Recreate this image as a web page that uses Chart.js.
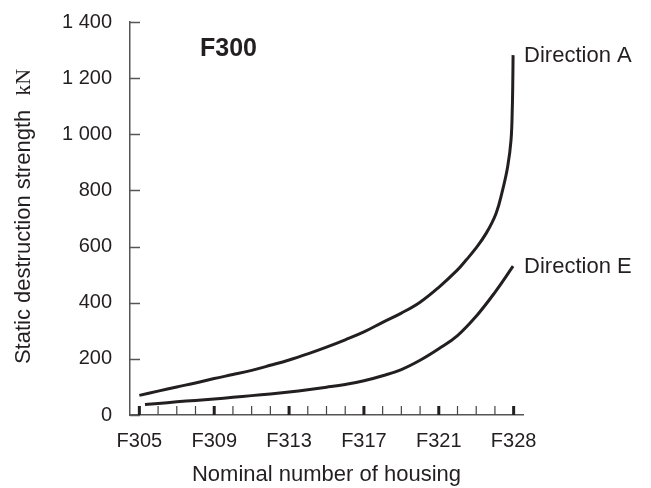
<!DOCTYPE html>
<html>
<head>
<meta charset="utf-8">
<script src="https://cdn.jsdelivr.net/npm/chart.js"></script>
<style>
  body { margin: 0; background: #fff; }
  #wrap { width: 651px; height: 488px; }
</style>
</head>
<body>
<div id="wrap"><canvas id="housingChart"></canvas></div>
<script>
// housing sizes along the x axis (one minor tick each)
var housings = ["F305", "F306", "F307", "F308", "F309", "F310", "F311", "F312", "F313", "F314",
  "F315", "F316", "F317", "F318", "F319", "F320", "F321", "F322", "F324", "F326", "F328"];
var labelledHousings = ["F305", "F309", "F313", "F317", "F321", "F328"];
var yTicks = [0, 200, 400, 600, 800, 1000, 1200, 1400];

// Direction A (position = index in housings, value in kN)
var posA = [0, 1, 2, 3, 4, 5, 6, 7, 8, 9, 10, 11, 12, 13, 14, 15, 16, 17, 17.46, 17.9, 18.53, 19.06, 19.41, 19.68, 19.86, 19.93, 19.96, 19.97];
var valA = [70, 85, 100, 114, 130, 144, 159, 177, 196, 218, 242, 268, 296, 330, 363, 402, 455, 517, 552, 587, 647, 718, 801, 884, 979, 1098, 1217, 1282];

// Direction E
var posE = [0.3, 1, 2, 3, 4, 5, 6, 7, 8, 9, 10, 11, 12, 13, 14, 15, 16, 17, 18, 19, 19.97];
var valE = [37, 41, 47, 52, 57, 63, 69, 75, 82, 90, 99, 109, 122, 140, 162, 195, 236, 283, 352, 437, 530];

var seriesNames = ["Direction A", "Direction E"];
var inkColor = "#231f20";

function toPoints(pos, val) {
  return pos.map(function (p, i) { return { x: p, y: val[i] }; });
}

function formatThousands(v) {
  if (v < 1000) return String(v);
  var rest = String(v % 1000);
  while (rest.length < 3) rest = "0" + rest;
  return Math.floor(v / 1000) + " " + rest;
}

// inner tick marks, curve labels, panel title and the y axis title
var decorations = {
  id: "decorations",
  afterDraw: function (chart) {
    var ctx = chart.ctx;
    var area = chart.chartArea;
    var xs = chart.scales.x;
    var ys = chart.scales.y;
    ctx.save();

    // y ticks pointing right
    ctx.strokeStyle = "#555";
    ctx.lineWidth = 1.5;
    ys.ticks.forEach(function (t) {
      var py = Math.round(ys.getPixelForValue(t.value)) + 0.5;
      ctx.beginPath();
      ctx.moveTo(area.left, py);
      ctx.lineTo(area.left + 10, py);
      ctx.stroke();
    });

    // x ticks pointing up, heavier on labelled housings
    housings.forEach(function (h, i) {
      var px = xs.getPixelForValue(i);
      var major = labelledHousings.indexOf(h) >= 0;
      ctx.strokeStyle = major ? inkColor : "#444";
      ctx.lineWidth = major ? 3 : 1.2;
      ctx.beginPath();
      ctx.moveTo(px, area.bottom);
      ctx.lineTo(px, area.bottom - 9);
      ctx.stroke();
    });

    ctx.fillStyle = inkColor;
    ctx.textBaseline = "middle";
    ctx.textAlign = "left";
    ctx.font = "22px 'Liberation Sans', Arial, sans-serif";
    chart.data.datasets.forEach(function (ds, i) {
      var pts = chart.getDatasetMeta(i).data;
      var last = pts[pts.length - 1];
      ctx.fillText(ds.label, last.x + 11, last.y + 1);
    });

    ctx.font = "bold 25px 'Liberation Sans', Arial, sans-serif";
    ctx.textBaseline = "alphabetic";
    ctx.fillText("F300", area.left + 70, area.top + 34);

    // y axis title with the unit in a serif face
    var sans = "22px 'Liberation Sans', Arial, sans-serif";
    var serif = "22px 'Liberation Serif', 'Times New Roman', serif";
    var part1 = "Static destruction strength";
    var part2 = "kN";
    var gap = 14;
    ctx.font = sans;
    var w1 = ctx.measureText(part1).width;
    ctx.font = serif;
    var w2 = ctx.measureText(part2).width;
    var total = w1 + gap + w2;
    ctx.translate(24, (area.top + area.bottom) / 2 - 2);
    ctx.rotate(-Math.PI / 2);
    ctx.textBaseline = "middle";
    ctx.font = sans;
    ctx.fillText(part1, -total / 2, 0);
    ctx.font = serif;
    ctx.fillText(part2, -total / 2 + w1 + gap, 0);
    ctx.restore();
  }
};

var chart = new Chart(document.getElementById("housingChart"), {
  type: "line",
  data: {
    datasets: [
      { label: seriesNames[0], data: toPoints(posA, valA) },
      { label: seriesNames[1], data: toPoints(posE, valE) }
    ]
  },
  options: {
    responsive: true,
    maintainAspectRatio: false,
    animation: false,
    layout: { padding: { top: 22, right: 128, left: 0, bottom: 0 } },
    elements: {
      line: { borderColor: inkColor, borderWidth: 3, fill: false, tension: 0.4, capBezierPoints: true },
      point: { radius: 0, hoverRadius: 0 }
    },
    plugins: {
      legend: { display: false },
      tooltip: { enabled: false }
    },
    scales: {
      x: {
        type: "linear",
        min: -0.5,
        max: housings.length - 0.5,
        afterBuildTicks: function (scale) {
          scale.ticks = labelledHousings.map(function (h) { return { value: housings.indexOf(h) }; });
        },
        afterFit: function (scale) {
          scale.height = 73;
          scale.paddingLeft = 0;
          scale.paddingRight = 0;
        },
        grid: { display: false, drawTicks: false },
        border: { display: true, color: "#555", width: 1.5 },
        ticks: {
          padding: 14,
          color: inkColor,
          font: { family: "'Liberation Sans', Arial, sans-serif", size: 20 },
          maxRotation: 0,
          autoSkip: false,
          callback: function (v) { return housings[v]; }
        },
        title: {
          display: true,
          text: "Nominal number of housing",
          color: inkColor,
          padding: 0,
          font: { family: "'Liberation Sans', Arial, sans-serif", size: 22 }
        }
      },
      y: {
        min: 0,
        max: 1400,
        afterBuildTicks: function (scale) {
          scale.ticks = yTicks.map(function (v) { return { value: v }; });
        },
        afterFit: function (scale) {
          scale.width = 130;
          scale.paddingTop = 0;
          scale.paddingBottom = 0;
        },
        grid: { display: false, drawTicks: false },
        border: { display: true, color: "#555", width: 1.5 },
        ticks: {
          padding: 18,
          color: inkColor,
          font: { family: "'Liberation Sans', Arial, sans-serif", size: 20 },
          callback: function (v) { return formatThousands(v); }
        }
      }
    }
  },
  plugins: [decorations]
});
</script>
</body>
</html>
